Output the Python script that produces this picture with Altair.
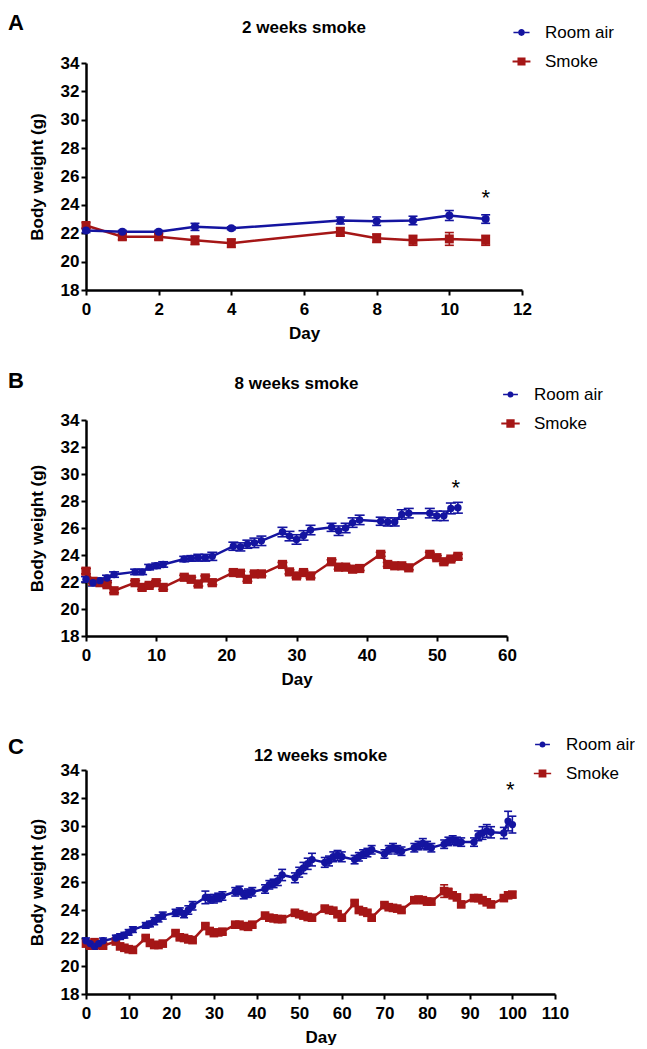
import altair as alt
import pandas as pd

SERIES = ["Room air", "Smoke"]
COLORS = {"Room air": "#1414a0", "Smoke": "#a51616"}
SHAPES = {"Room air": "circle", "Smoke": "square"}
FONT = "Liberation Sans"

Y_TICKS = [18, 20, 22, 24, 26, 28, 30, 32, 34]

# ---------------- Panel A : 2 weeks ----------------
a_days = [0, 1, 2, 3, 4, 7, 8, 9, 10, 11]
a_room = [22.2, 22.1, 22.1, 22.45, 22.35, 22.9, 22.85, 22.9, 23.25, 23.0]
a_room_sem = [0.15, 0.1, 0.1, 0.25, 0.1, 0.25, 0.3, 0.3, 0.35, 0.3]
a_smoke = [22.55, 21.75, 21.75, 21.5, 21.3, 22.1, 21.65, 21.5, 21.6, 21.5]
a_smoke_sem = [0.2, 0.2, 0.2, 0.3, 0.3, 0.3, 0.3, 0.35, 0.45, 0.35]
a_xticks = [0, 2, 4, 6, 8, 10, 12]
a_star_day = [11]
a_star_w = [24.5]

# ---------------- Panel B : 8 weeks ----------------
b_days = [0, 1, 2, 3, 4, 7, 8, 9, 10, 11, 14, 15, 16, 17, 18, 21, 22, 23, 24, 25,
          28, 29, 30, 31, 32, 35, 36, 37, 38, 39, 42, 43, 44, 45, 46, 49, 50, 51, 52, 53]
b_room = [22.2, 21.95, 22.1, 22.3, 22.55, 22.75, 22.75, 23.1, 23.2, 23.3,
          23.7, 23.75, 23.8, 23.8, 23.9, 24.65, 24.6, 24.8, 24.9, 25.05,
          25.7, 25.4, 25.15, 25.45, 25.85, 26.05, 25.8, 26.0, 26.4, 26.6,
          26.5, 26.45, 26.45, 27.0, 27.1, 27.1, 26.9, 26.9, 27.45, 27.5]
b_room_sem = [0.2, 0.25, 0.2, 0.2, 0.2, 0.2, 0.2, 0.2, 0.2, 0.2,
              0.2, 0.2, 0.25, 0.25, 0.3, 0.3, 0.3, 0.3, 0.35, 0.35,
              0.35, 0.35, 0.35, 0.35, 0.35, 0.3, 0.35, 0.35, 0.35, 0.35,
              0.3, 0.3, 0.3, 0.35, 0.35, 0.35, 0.35, 0.35, 0.4, 0.4]
b_smoke = [22.8, 22.05, 21.95, 21.8, 21.35, 21.95, 21.6, 21.75, 21.95, 21.6,
           22.35, 22.2, 21.85, 22.3, 21.95, 22.7, 22.65, 22.2, 22.6, 22.6,
           23.3, 22.75, 22.45, 22.7, 22.45, 23.5, 23.1, 23.1, 22.95, 23.0,
           24.05, 23.3, 23.2, 23.2, 23.05, 24.05, 23.8, 23.5, 23.7, 23.9]
b_smoke_sem = [0.2, 0.15, 0.15, 0.15, 0.15, 0.15, 0.15, 0.15, 0.15, 0.15,
               0.15, 0.15, 0.15, 0.15, 0.15, 0.15, 0.15, 0.15, 0.15, 0.15,
               0.15, 0.15, 0.15, 0.15, 0.15, 0.15, 0.15, 0.15, 0.15, 0.15,
               0.15, 0.15, 0.15, 0.15, 0.15, 0.15, 0.15, 0.15, 0.15, 0.15]
b_xticks = [0, 10, 20, 30, 40, 50, 60]
b_star_day = [52.7]
b_star_w = [29.0]

# ---------------- Panel C : 12 weeks ----------------
c_days = [0, 1, 2, 3, 4, 7, 8, 9, 10, 11, 14, 15, 16, 17, 18, 21, 22, 23, 24, 25,
          28, 29, 30, 31, 32, 35, 36, 37, 38, 39, 42, 43, 44, 45, 46, 49, 50, 51, 52, 53,
          56, 57, 58, 59, 60, 63, 64, 65, 66, 67, 70, 71, 72, 73, 74, 77, 78, 79, 80, 81,
          84, 85, 86, 87, 88, 91, 92, 93, 94, 95, 98, 99, 100]
c_room = [21.8, 21.6, 21.4, 21.6, 21.8, 22.0, 22.1, 22.2, 22.4, 22.6,
          22.9, 23.0, 23.2, 23.4, 23.6, 23.8, 23.9, 23.7, 24.0, 24.3,
          24.9, 24.8, 24.8, 24.9, 25.0, 25.3, 25.4, 25.1, 25.2, 25.3,
          25.5, 25.8, 25.9, 26.1, 26.5, 26.3, 26.7, 27.0, 27.3, 27.6,
          27.4, 27.5, 27.8, 27.9, 27.8, 27.6, 27.8, 28.0, 28.1, 28.3,
          28.0, 28.3, 28.45, 28.3, 28.2, 28.45, 28.6, 28.75, 28.6, 28.45,
          28.7, 28.9, 29.0, 28.9, 28.85, 28.85, 29.3, 29.5, 29.65, 29.55,
          29.5, 30.35, 30.1]
c_room_sem = [0.2, 0.2, 0.2, 0.2, 0.2, 0.2, 0.2, 0.2, 0.2, 0.2,
              0.2, 0.2, 0.25, 0.25, 0.25, 0.25, 0.25, 0.25, 0.3, 0.3,
              0.45, 0.3, 0.3, 0.3, 0.3, 0.3, 0.3, 0.3, 0.3, 0.3,
              0.3, 0.3, 0.3, 0.35, 0.4, 0.35, 0.35, 0.4, 0.4, 0.45,
              0.35, 0.35, 0.35, 0.35, 0.35, 0.3, 0.3, 0.3, 0.3, 0.3,
              0.3, 0.3, 0.3, 0.3, 0.3, 0.3, 0.3, 0.35, 0.3, 0.3,
              0.3, 0.3, 0.3, 0.3, 0.3, 0.3, 0.35, 0.45, 0.45, 0.4,
              0.4, 0.7, 0.6]
c_smoke = [21.6, 21.45, 21.7, 21.5, 21.45, 21.75, 21.4, 21.3, 21.2, 21.15,
           22.0, 21.65, 21.5, 21.5, 21.6, 22.35, 22.05, 22.0, 21.9, 21.85,
           22.85, 22.5, 22.35, 22.4, 22.45, 22.95, 22.95, 22.85, 22.8, 22.95,
           23.6, 23.45, 23.4, 23.35, 23.35, 23.8, 23.7, 23.6, 23.5, 23.45,
           24.1, 24.0, 23.95, 23.7, 23.45, 24.5, 24.0, 23.9, 23.8, 23.45,
           24.35, 24.2, 24.15, 24.1, 24.0, 24.7, 24.75, 24.7, 24.6, 24.6,
           25.35, 25.25, 25.05, 24.9, 24.4, 24.85, 24.85, 24.7, 24.55, 24.4,
           24.85, 25.05, 25.1]
c_smoke_sem = [0.15, 0.15, 0.15, 0.15, 0.15, 0.15, 0.15, 0.15, 0.15, 0.15,
               0.15, 0.15, 0.15, 0.15, 0.15, 0.15, 0.15, 0.15, 0.15, 0.15,
               0.15, 0.15, 0.15, 0.15, 0.15, 0.15, 0.15, 0.15, 0.15, 0.15,
               0.15, 0.15, 0.15, 0.15, 0.15, 0.15, 0.15, 0.15, 0.15, 0.15,
               0.15, 0.15, 0.15, 0.15, 0.15, 0.15, 0.15, 0.15, 0.15, 0.15,
               0.15, 0.15, 0.15, 0.15, 0.15, 0.15, 0.15, 0.15, 0.15, 0.15,
               0.45, 0.3, 0.2, 0.15, 0.15, 0.15, 0.15, 0.15, 0.15, 0.15,
               0.15, 0.2, 0.2]
c_xticks = [0, 10, 20, 30, 40, 50, 60, 70, 80, 90, 100, 110]
c_star_day = [99.5]
c_star_w = [32.55]

panel_letters = ["A", "B", "C"]
panel_titles = ["2 weeks smoke", "8 weeks smoke", "12 weeks smoke"]

# legend symbols: marker with a line through it (drawn at the default symbol size)
LEG_CIRCLE = ("M-2,-0.2H-0.84V0.2H-2Z M0.84,-0.2H2V0.2H0.84Z "
              "M-0.84,0A0.84,0.84,0,1,0,0.84,0A0.84,0.84,0,1,0,-0.84,0Z")
LEG_SQUARE = ("M-2,-0.2H-0.9V0.2H-2Z M0.9,-0.2H2V0.2H0.9Z "
              "M-0.9,-0.9H0.9V0.9H-0.9Z")


def long_df(days, room, room_sem, smoke, smoke_sem):
    rows = []
    for s, vals, sems in (("Smoke", smoke, smoke_sem), ("Room air", room, room_sem)):
        for d, v, e in zip(days, vals, sems):
            rows.append(dict(day=d, weight=v, lo=v - e, hi=v + e, series=s,
                             clr=COLORS[s], shp=SHAPES[s]))
    return pd.DataFrame(rows)


def panel(df, xmax, xticks, star_day, star_w, letter, title, w, h,
          letter_y, title_y, leg_x, leg_y, circ_size, sq_size, cap):
    xs = alt.Scale(domain=[0, xmax], nice=False)
    ys = alt.Scale(domain=[18, 34], nice=False, zero=False)
    xax = alt.Axis(values=xticks, labelFlush=False, labelOverlap=False,
                   labelPadding=6, titlePadding=8)
    yax = alt.Axis(values=Y_TICKS, labelPadding=2, titlePadding=14)

    def X(f):
        return alt.X(f"{f}:Q", scale=xs, axis=xax, title="Day")

    def Y(f):
        return alt.Y(f"{f}:Q", scale=ys, axis=yax, title="Body weight (g)")

    clr = alt.Color("clr:N", scale=None)
    base = alt.Chart(df)
    rule = base.mark_rule(strokeWidth=1.6).encode(
        x=X("day"), y=Y("lo"), y2="hi:Q", color=clr)
    cap_lo = base.mark_tick(orient="horizontal", size=cap, thickness=1.6, opacity=1).encode(
        x=X("day"), y=Y("lo"), color=clr)
    cap_hi = base.mark_tick(orient="horizontal", size=cap, thickness=1.6, opacity=1).encode(
        x=X("day"), y=Y("hi"), color=clr)
    line = base.mark_line(strokeWidth=2.5).encode(
        x=X("day"), y=Y("weight"), color=clr, detail="series:N")
    pts = base.mark_point(filled=True, opacity=1).encode(
        x=X("day"), y=Y("weight"), color=clr,
        shape=alt.Shape("shp:N", scale=None),
        size=alt.Size("series:N", scale=alt.Scale(domain=SERIES, range=[circ_size, sq_size]), legend=None),
    )
    star = alt.Chart(pd.DataFrame({"day": star_day, "weight": star_w})).mark_text(
        text="*", fontSize=22, font=FONT, color="black").encode(x=X("day"), y=Y("weight"))
    let = alt.Chart(pd.DataFrame({"t": [letter]})).mark_text(
        align="left", baseline="top", fontSize=22, fontWeight="bold", font=FONT, color="black"
    ).encode(text="t:N", x=alt.value(-78), y=alt.value(letter_y))
    ttl = alt.Chart(pd.DataFrame({"t": [title]})).mark_text(
        align="center", baseline="middle", fontSize=17, fontWeight="bold", font=FONT, color="black"
    ).encode(text="t:N", x=alt.value(w / 2), y=alt.value(title_y))
    legend = alt.Legend(title=None, orient="none", legendX=leg_x, legendY=leg_y,
                        labelFont=FONT, labelFontSize=17, labelColor="black",
                        symbolStrokeWidth=0, rowPadding=11,
                        labelOffset=15, padding=0, symbolOpacity=1)
    leg = alt.Chart(pd.DataFrame({"series": SERIES})).transform_filter(
        "datum.series == 'none'").mark_point(filled=True, opacity=1).encode(
        color=alt.Color("series:N", scale=alt.Scale(domain=SERIES, range=[COLORS[s] for s in SERIES]),
                        legend=legend),
        shape=alt.Shape("series:N", scale=alt.Scale(domain=SERIES, range=[LEG_CIRCLE, LEG_SQUARE]),
                        legend=legend),
    )
    return alt.layer(rule, cap_lo, cap_hi, line, pts, star, let, ttl, leg).properties(width=w, height=h)


pa = panel(long_df(a_days, a_room, a_room_sem, a_smoke, a_smoke_sem), 12, a_xticks,
           a_star_day, a_star_w, panel_letters[0], panel_titles[0], 436, 227,
           -50, -35, 427, -39, 65, 80, 9)
pb = panel(long_df(b_days, b_room, b_room_sem, b_smoke, b_smoke_sem), 60, b_xticks,
           b_star_day, b_star_w, panel_letters[1], panel_titles[1], 421, 216,
           -49, -36, 416, -34, 55, 85, 10)
pc = panel(long_df(c_days, c_room, c_room_sem, c_smoke, c_smoke_sem), 110, c_xticks,
           c_star_day, c_star_w, panel_letters[2], panel_titles[2], 469, 224,
           -33, -14, 448, -34, 55, 75, 8)

inner = alt.vconcat(pb, pc, spacing=49).resolve_scale(
    color="independent", shape="independent", size="independent").resolve_legend(
    color="independent", shape="independent")
chart = alt.vconcat(pa, inner, spacing=29).resolve_scale(
    color="independent", shape="independent", size="independent").resolve_legend(
    color="independent", shape="independent").properties(
    padding={"top": 4, "left": 0, "right": 0, "bottom": 0}).configure_view(
    stroke=None).configure_axis(
    grid=False, domainColor="black", domainWidth=2.5, tickColor="black", tickWidth=2,
    tickSize=5, labelFont=FONT, labelFontSize=17, labelFontWeight="bold", labelColor="black",
    titleFont=FONT, titleFontSize=17, titleFontWeight="bold", titleColor="black")

chart.save("out.html", embed_options={"renderer": "svg", "actions": False})
